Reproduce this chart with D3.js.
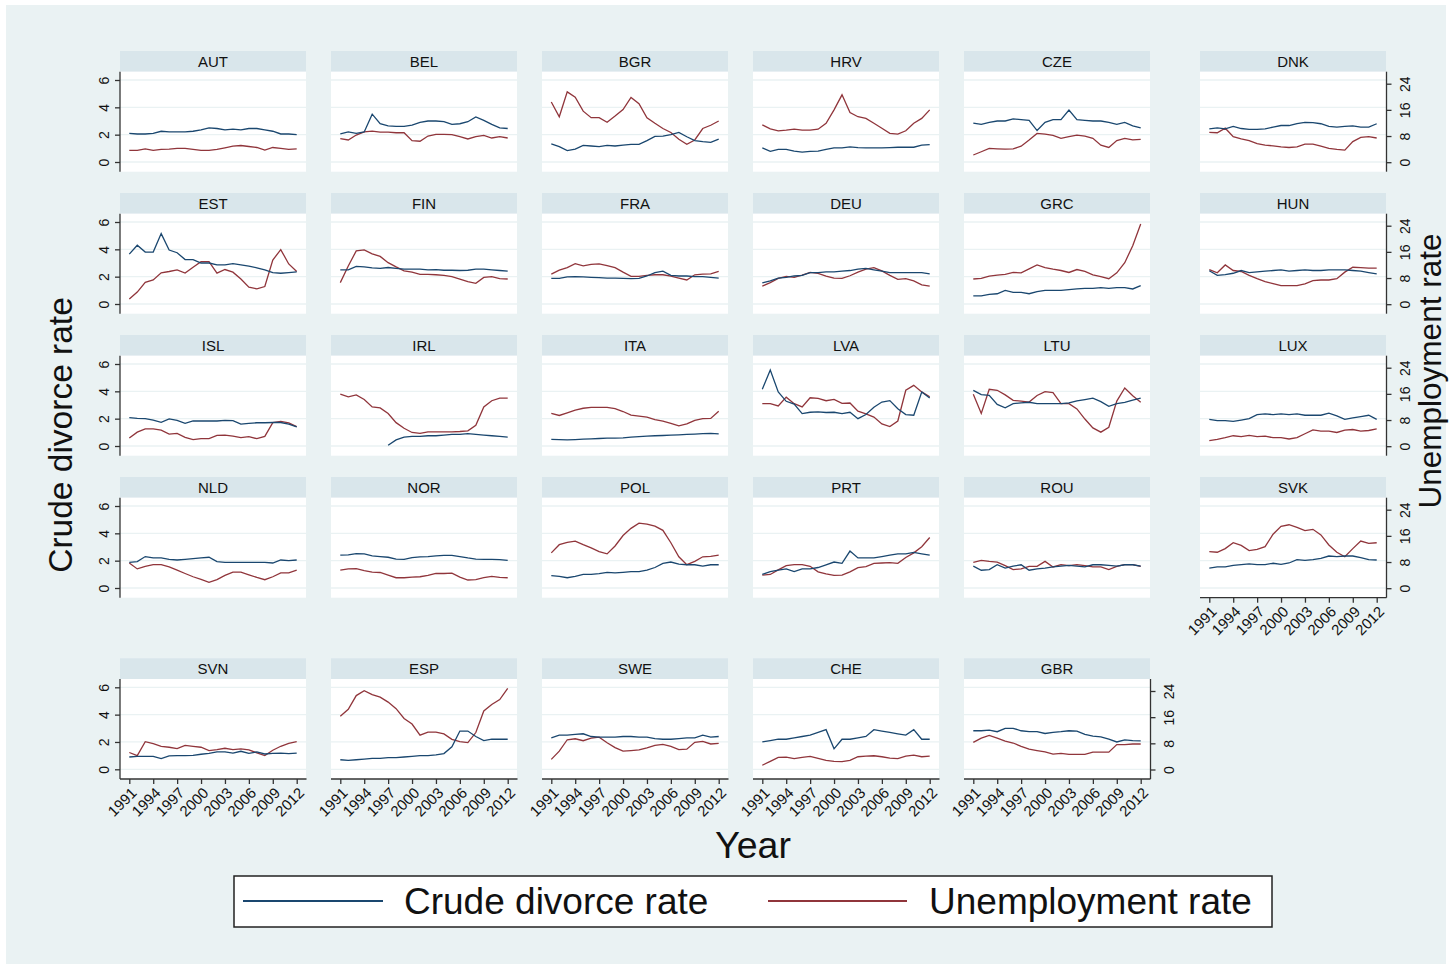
<!DOCTYPE html>
<html>
<head>
<meta charset="utf-8">
<script src="https://d3js.org/d3.v7.min.js"></script>
<style>
    body { margin: 0; background: #ffffff; }
    text { font-family: "Liberation Sans", Arial, sans-serif; fill: #111; }
</style>
</head>
<body>
<div id="my_dataviz"></div>
<script>

    // years, ticks and panel order
    var years = [1991, 1992, 1993, 1994, 1995, 1996, 1997, 1998, 1999, 2000, 2001,
        2002, 2003, 2004, 2005, 2006, 2007, 2008, 2009, 2010, 2011, 2012];
    var yearTicks = [1991, 1994, 1997, 2000, 2003, 2006, 2009, 2012];
    var divTicks = [0, 2, 4, 6];
    var unempTicks = [0, 8, 16, 24];
    var countries = ["AUT", "BEL", "BGR", "HRV", "CZE", "DNK",
        "EST", "FIN", "FRA", "DEU", "GRC", "HUN",
        "ISL", "IRL", "ITA", "LVA", "LTU", "LUX",
        "NLD", "NOR", "POL", "PRT", "ROU", "SVK",
        "SVN", "ESP", "SWE", "CHE", "GBR"];

    // crude divorce rate (left axis) and unemployment rate (right axis), 1991-2012
    var div_AUT = [2.1, 2.05, 2.05, 2.1, 2.25, 2.2, 2.2, 2.2, 2.25, 2.35, 2.5, 2.45, 2.35, 2.4, 2.35, 2.45, 2.45, 2.35, 2.25, 2.05, 2.05, 2.0];
    var une_AUT = [3.6, 3.6, 4.1, 3.6, 3.9, 4.0, 4.2, 4.2, 3.9, 3.6, 3.6, 3.9, 4.4, 4.9, 5.1, 4.8, 4.5, 3.7, 4.5, 4.2, 3.9, 4.1];
    var div_BEL = [2.05, 2.2, 2.1, 2.2, 3.5, 2.8, 2.65, 2.6, 2.6, 2.7, 2.9, 3.0, 3.0, 2.95, 2.75, 2.8, 2.95, 3.3, 3.05, 2.75, 2.5, 2.45];
    var une_BEL = [7.2, 6.8, 8.3, 9.3, 9.5, 9.2, 9.2, 9.0, 9.0, 6.6, 6.4, 8.0, 8.5, 8.5, 8.4, 7.8, 7.1, 7.8, 8.2, 7.4, 7.8, 7.4];
    var div_BGR = [1.32, 1.12, 0.83, 0.95, 1.22, 1.17, 1.12, 1.22, 1.17, 1.24, 1.29, 1.29, 1.56, 1.88, 1.9, 2.0, 2.17, 1.85, 1.56, 1.49, 1.44, 1.68];
    var une_BGR = [18.4, 13.9, 21.5, 19.9, 15.6, 13.6, 13.6, 12.2, 14.1, 16.1, 19.8, 17.9, 13.6, 11.9, 10.3, 9.1, 7.0, 5.5, 6.8, 10.3, 11.3, 12.6];
    var div_HRV = [1.03, 0.78, 0.93, 0.93, 0.8, 0.73, 0.78, 0.8, 0.93, 1.03, 1.03, 1.1, 1.05, 1.03, 1.03, 1.03, 1.05, 1.08, 1.08, 1.08, 1.23, 1.27];
    var une_HRV = [11.4, 10.2, 9.6, 9.8, 10.1, 9.8, 9.8, 10.1, 11.9, 16.0, 20.6, 15.2, 13.9, 13.4, 11.9, 10.4, 8.8, 8.6, 9.6, 11.9, 13.4, 16.0];
    var div_CZE = [2.85, 2.75, 2.9, 3.0, 3.0, 3.15, 3.1, 3.05, 2.3, 2.9, 3.1, 3.1, 3.8, 3.1, 3.05, 3.0, 3.0, 2.9, 2.75, 2.9, 2.65, 2.5];
    var une_CZE = [2.2, 3.2, 4.2, 4.1, 4.0, 4.1, 4.9, 6.8, 8.8, 8.6, 8.2, 7.3, 7.8, 8.3, 8.0, 7.3, 5.2, 4.5, 6.6, 7.3, 6.8, 7.0];
    var div_DNK = [2.43, 2.5, 2.43, 2.6, 2.45, 2.38, 2.38, 2.43, 2.55, 2.67, 2.67, 2.8, 2.9, 2.88, 2.8, 2.6, 2.55, 2.6, 2.65, 2.55, 2.55, 2.8];
    var une_DNK = [9.1, 9.0, 10.4, 7.8, 7.1, 6.6, 5.7, 5.2, 5.0, 4.7, 4.5, 4.7, 5.5, 5.5, 4.9, 4.2, 3.9, 3.7, 6.3, 7.6, 7.8, 7.4];
    var div_EST = [3.65, 4.3, 3.8, 3.8, 5.15, 3.95, 3.75, 3.25, 3.25, 3.0, 3.0, 2.87, 2.87, 2.95, 2.87, 2.77, 2.65, 2.5, 2.3, 2.25, 2.3, 2.35];
    var une_EST = [1.6, 3.7, 6.7, 7.4, 9.6, 10.0, 10.5, 9.5, 11.3, 13.0, 13.0, 9.5, 10.6, 9.8, 7.7, 5.2, 4.7, 5.4, 13.5, 16.7, 12.3, 10.0];
    var div_FIN = [2.5, 2.5, 2.75, 2.72, 2.65, 2.6, 2.67, 2.6, 2.55, 2.55, 2.55, 2.5, 2.52, 2.47, 2.47, 2.45, 2.47, 2.55, 2.55, 2.5, 2.45, 2.4];
    var une_FIN = [6.6, 11.7, 16.3, 16.6, 15.4, 14.6, 12.7, 11.4, 10.2, 9.8, 9.1, 9.1, 9.0, 8.8, 8.4, 7.7, 6.9, 6.4, 8.2, 8.4, 7.8, 7.7];
    var div_FRA = [1.88, 1.88, 1.98, 2.0, 1.98, 1.95, 1.93, 1.9, 1.9, 1.88, 1.85, 1.88, 2.05, 2.3, 2.4, 2.1, 2.05, 2.05, 2.0, 2.0, 1.95, 1.9];
    var une_FRA = [9.2, 10.4, 11.2, 12.4, 11.7, 12.2, 12.3, 11.8, 11.2, 9.8, 8.5, 8.5, 8.8, 9.0, 9.0, 8.6, 8.0, 7.4, 9.0, 9.2, 9.3, 10.0];
    var div_DEU = [1.55, 1.7, 1.9, 1.95, 2.05, 2.1, 2.3, 2.3, 2.35, 2.35, 2.4, 2.45, 2.55, 2.6, 2.5, 2.4, 2.3, 2.3, 2.3, 2.3, 2.3, 2.2];
    var une_DEU = [5.5, 6.6, 7.9, 8.5, 8.2, 8.9, 9.7, 9.4, 8.6, 8.0, 7.9, 8.7, 9.8, 10.7, 11.2, 10.2, 8.8, 7.6, 7.8, 7.1, 5.9, 5.5];
    var div_GRC = [0.6, 0.6, 0.7, 0.75, 1.0, 0.85, 0.85, 0.75, 0.9, 1.0, 1.0, 1.0, 1.05, 1.1, 1.15, 1.15, 1.2, 1.15, 1.2, 1.2, 1.1, 1.35];
    var une_GRC = [7.7, 7.9, 8.6, 8.9, 9.1, 9.7, 9.6, 10.8, 12.0, 11.2, 10.7, 10.3, 9.7, 10.6, 10.0, 9.0, 8.4, 7.8, 9.6, 12.7, 17.9, 24.5];
    var div_HUN = [2.43, 2.1, 2.15, 2.25, 2.45, 2.3, 2.35, 2.4, 2.45, 2.5, 2.4, 2.45, 2.5, 2.45, 2.45, 2.5, 2.5, 2.5, 2.45, 2.4, 2.3, 2.2];
    var une_HUN = [10.6, 9.6, 12.0, 10.3, 10.0, 8.8, 7.8, 6.9, 6.3, 5.7, 5.7, 5.7, 6.2, 7.2, 7.4, 7.4, 7.8, 9.8, 11.3, 11.2, 11.0, 11.0];
    var div_ISL = [2.07, 2.02, 2.0, 1.9, 1.73, 1.98, 1.88, 1.66, 1.83, 1.83, 1.83, 1.83, 1.88, 1.85, 1.6, 1.65, 1.7, 1.7, 1.72, 1.72, 1.6, 1.4];
    var une_ISL = [2.5, 4.3, 5.3, 5.3, 4.9, 3.7, 3.9, 2.7, 2.0, 2.3, 2.3, 3.3, 3.4, 3.1, 2.6, 2.9, 2.3, 3.0, 7.2, 7.6, 7.1, 6.0];
    var div_IRL = [null, null, null, null, null, null, 0.05, 0.45, 0.65, 0.7, 0.7, 0.75, 0.75, 0.8, 0.85, 0.85, 0.9, 0.85, 0.8, 0.75, 0.7, 0.65];
    var une_IRL = [15.9, 15.1, 15.7, 14.3, 12.0, 11.7, 10.0, 7.2, 5.5, 4.2, 3.9, 4.4, 4.4, 4.4, 4.4, 4.5, 4.7, 6.4, 12.0, 13.9, 14.7, 14.7];
    var div_ITA = [0.48, 0.47, 0.45, 0.47, 0.5, 0.52, 0.55, 0.57, 0.57, 0.6, 0.65, 0.68, 0.72, 0.75, 0.77, 0.8, 0.82, 0.85, 0.87, 0.9, 0.93, 0.88];
    var une_ITA = [10.0, 9.4, 10.2, 11.0, 11.6, 11.9, 11.9, 11.9, 11.5, 10.6, 9.5, 9.2, 8.9, 8.1, 7.7, 7.0, 6.2, 6.8, 7.9, 8.4, 8.5, 10.7];
    var div_LVA = [4.15, 5.56, 3.95, 3.27, 3.07, 2.37, 2.47, 2.5, 2.45, 2.47, 2.37, 2.47, 2.0, 2.3, 2.83, 3.22, 3.32, 2.73, 2.3, 2.25, 3.95, 3.51];
    var une_LVA = [13.0, 13.0, 12.3, 15.0, 13.0, 12.0, 14.8, 14.6, 13.9, 14.3, 13.1, 13.2, 10.7, 9.9, 8.9, 6.8, 6.0, 7.7, 17.1, 18.6, 16.6, 15.1];
    var div_LTU = [4.07, 3.76, 3.7, 3.04, 2.8, 3.1, 3.15, 3.2, 3.1, 3.1, 3.1, 3.1, 3.15, 3.3, 3.4, 3.5, 3.25, 2.9, 3.1, 3.2, 3.35, 3.5];
    var une_LTU = [15.9, 10.0, 17.4, 17.1, 15.7, 14.0, 13.8, 13.5, 15.5, 16.7, 16.4, 13.0, 13.0, 11.4, 8.3, 5.6, 4.3, 5.8, 13.8, 17.8, 15.4, 13.4];
    var div_LUX = [1.95, 1.85, 1.85, 1.8, 1.9, 2.0, 2.3, 2.35, 2.3, 2.35, 2.3, 2.35, 2.25, 2.25, 2.25, 2.4, 2.2, 1.95, 2.05, 2.15, 2.25, 1.95];
    var une_LUX = [1.7, 2.1, 2.6, 3.2, 2.9, 3.3, 2.9, 3.1, 2.6, 2.6, 2.2, 2.6, 3.8, 5.0, 4.6, 4.6, 4.2, 4.9, 5.1, 4.6, 4.8, 5.3];
    var div_NLD = [1.88, 1.93, 2.3, 2.2, 2.2, 2.1, 2.05, 2.1, 2.15, 2.2, 2.25, 1.93, 1.88, 1.88, 1.88, 1.88, 1.88, 1.88, 1.83, 2.05, 2.0, 2.05];
    var une_NLD = [7.7, 5.9, 6.7, 7.2, 7.2, 6.5, 5.5, 4.5, 3.5, 2.7, 1.8, 2.6, 3.9, 4.9, 4.9, 4.1, 3.3, 2.6, 3.5, 4.7, 4.7, 5.5];
    var div_NOR = [2.4, 2.42, 2.52, 2.5, 2.35, 2.3, 2.25, 2.12, 2.1, 2.22, 2.28, 2.3, 2.35, 2.38, 2.38, 2.3, 2.2, 2.12, 2.1, 2.1, 2.08, 2.02];
    var une_NOR = [5.5, 5.9, 6.0, 5.4, 4.9, 4.8, 4.0, 3.2, 3.2, 3.4, 3.5, 3.9, 4.5, 4.5, 4.6, 3.4, 2.5, 2.6, 3.2, 3.6, 3.3, 3.2];
    var div_POL = [0.9, 0.85, 0.75, 0.85, 1.0, 1.0, 1.05, 1.15, 1.1, 1.15, 1.2, 1.2, 1.3, 1.5, 1.8, 1.9, 1.75, 1.7, 1.7, 1.6, 1.7, 1.7];
    var une_POL = [10.8, 13.3, 14.0, 14.4, 13.3, 12.3, 11.2, 10.5, 12.9, 16.1, 18.3, 19.9, 19.6, 19.0, 17.7, 13.9, 9.6, 7.2, 8.2, 9.6, 9.7, 10.1];
    var div_PRT = [1.0, 1.2, 1.3, 1.4, 1.2, 1.4, 1.4, 1.5, 1.7, 1.9, 1.8, 2.7, 2.2, 2.2, 2.2, 2.3, 2.4, 2.5, 2.5, 2.6, 2.5, 2.4];
    var une_PRT = [4.0, 4.2, 5.6, 6.9, 7.2, 7.2, 6.7, 5.0, 4.4, 3.9, 4.0, 5.0, 6.3, 6.6, 7.6, 7.7, 7.8, 7.6, 9.4, 10.8, 12.7, 15.5];
    var div_ROU = [1.6, 1.3, 1.35, 1.7, 1.45, 1.6, 1.7, 1.3, 1.4, 1.45, 1.55, 1.6, 1.65, 1.6, 1.55, 1.7, 1.7, 1.65, 1.6, 1.7, 1.7, 1.6];
    var une_ROU = [7.9, 8.5, 8.2, 8.0, 6.9, 5.7, 5.9, 6.7, 6.7, 8.2, 6.5, 7.2, 6.9, 7.2, 6.9, 6.5, 6.5, 5.7, 6.7, 7.2, 7.2, 6.7];
    var div_SVK = [1.46, 1.54, 1.54, 1.66, 1.71, 1.76, 1.71, 1.71, 1.81, 1.73, 1.83, 2.07, 2.02, 2.07, 2.17, 2.34, 2.29, 2.34, 2.34, 2.22, 2.07, 2.05];
    var une_SVK = [11.2, 11.0, 12.1, 13.9, 13.1, 11.5, 11.9, 12.7, 16.5, 18.9, 19.4, 18.6, 17.6, 18.0, 16.3, 13.2, 11.0, 9.6, 12.1, 14.4, 13.7, 13.9];
    var div_SVN = [0.9, 0.95, 0.95, 0.95, 0.78, 0.98, 1.0, 1.0, 1.02, 1.1, 1.17, 1.27, 1.27, 1.19, 1.32, 1.17, 1.27, 1.12, 1.17, 1.19, 1.14, 1.19];
    var une_SVN = [5.2, 4.25, 8.5, 7.9, 7.1, 6.8, 6.4, 7.4, 7.1, 6.8, 5.8, 6.1, 6.5, 6.1, 6.3, 6.0, 5.1, 4.25, 5.9, 7.1, 8.0, 8.5];
    var div_ESP = [0.7, 0.65, 0.7, 0.75, 0.8, 0.8, 0.85, 0.85, 0.9, 0.95, 1.0, 1.0, 1.05, 1.15, 1.65, 2.8, 2.8, 2.4, 2.1, 2.2, 2.2, 2.2];
    var une_ESP = [16.3, 18.4, 22.6, 24.1, 22.9, 22.1, 20.6, 18.6, 15.6, 13.9, 10.5, 11.4, 11.4, 10.9, 9.2, 8.5, 8.2, 11.3, 17.9, 19.9, 21.4, 24.8];
    var div_SWE = [2.3, 2.5, 2.5, 2.55, 2.6, 2.4, 2.35, 2.35, 2.35, 2.4, 2.4, 2.35, 2.35, 2.25, 2.2, 2.2, 2.25, 2.3, 2.3, 2.5, 2.35, 2.4];
    var une_SWE = [3.1, 5.6, 9.1, 9.4, 8.8, 9.6, 9.9, 8.2, 6.7, 5.6, 5.8, 6.0, 6.6, 7.4, 7.7, 7.1, 6.1, 6.2, 8.3, 8.6, 7.8, 8.0];
    var div_CHE = [2.0, 2.1, 2.2, 2.2, 2.3, 2.4, 2.5, 2.7, 2.9, 1.5, 2.2, 2.2, 2.3, 2.4, 2.9, 2.8, 2.7, 2.6, 2.5, 2.9, 2.2, 2.2];
    var une_CHE = [1.3, 2.5, 3.7, 3.8, 3.3, 3.7, 4.0, 3.4, 2.8, 2.5, 2.4, 2.8, 3.9, 4.1, 4.2, 3.9, 3.5, 3.3, 4.1, 4.4, 3.9, 4.1];
    var div_GBR = [2.82, 2.82, 2.87, 2.75, 3.0, 3.0, 2.82, 2.75, 2.75, 2.62, 2.7, 2.75, 2.82, 2.8, 2.55, 2.42, 2.37, 2.2, 2.0, 2.15, 2.1, 2.08];
    var une_GBR = [8.3, 9.6, 10.4, 9.6, 8.7, 8.1, 7.1, 6.2, 5.8, 5.4, 4.7, 4.9, 4.6, 4.6, 4.6, 5.3, 5.3, 5.3, 7.6, 7.6, 7.8, 7.8];

    // lookup tables built from the arrays above
    var divorce = {
        AUT: div_AUT, BEL: div_BEL, BGR: div_BGR, HRV: div_HRV, CZE: div_CZE, DNK: div_DNK,
        EST: div_EST, FIN: div_FIN, FRA: div_FRA, DEU: div_DEU, GRC: div_GRC, HUN: div_HUN,
        ISL: div_ISL, IRL: div_IRL, ITA: div_ITA, LVA: div_LVA, LTU: div_LTU, LUX: div_LUX,
        NLD: div_NLD, NOR: div_NOR, POL: div_POL, PRT: div_PRT, ROU: div_ROU, SVK: div_SVK,
        SVN: div_SVN, ESP: div_ESP, SWE: div_SWE, CHE: div_CHE, GBR: div_GBR
    };
    var unemp = {
        AUT: une_AUT, BEL: une_BEL, BGR: une_BGR, HRV: une_HRV, CZE: une_CZE, DNK: une_DNK,
        EST: une_EST, FIN: une_FIN, FRA: une_FRA, DEU: une_DEU, GRC: une_GRC, HUN: une_HUN,
        ISL: une_ISL, IRL: une_IRL, ITA: une_ITA, LVA: une_LVA, LTU: une_LTU, LUX: une_LUX,
        NLD: une_NLD, NOR: une_NOR, POL: une_POL, PRT: une_PRT, ROU: une_ROU, SVK: une_SVK,
        SVN: une_SVN, ESP: une_ESP, SWE: une_SWE, CHE: une_CHE, GBR: une_GBR
    };

    var blue = "#1a476f", red = "#90353b";
    var panelW = 186, panelH = 100, stripH = 20.7;
    var colLeft = [120, 331, 542, 753, 964, 1200];
    var rowTop = [71.7, 213.7, 355.7, 497.7, 679];

    var svg = d3.select("#my_dataviz")
        .append("svg")
        .attr("width", 1451)
        .attr("height", 969);

    // graph background
    svg.append("rect").attr("x", 0).attr("y", 0).attr("width", 1451).attr("height", 969).attr("fill", "#ffffff");
    svg.append("rect").attr("x", 6).attr("y", 5).attr("width", 1440).attr("height", 959).attr("fill", "#eaf2f3");

    countries.forEach(function (name, i) {
        var r = Math.floor(i / 6), c = i % 6;
        var left = colLeft[c], top = rowTop[r];

        var x = d3.scaleLinear().domain([1991, 2012]).range([left + 9.3, left + 176.7]);
        var yL = d3.scaleLinear().domain([0, 6]).range([top + 90.3, top + 8.3]);
        var yR = d3.scaleLinear().domain([0, 24]).range([top + 90.5, top + 12]);

        var g = svg.append("g");

        // title strip
        g.append("rect")
            .attr("x", left).attr("y", top - stripH)
            .attr("width", panelW).attr("height", stripH)
            .attr("fill", "#d9e6eb");
        g.append("text")
            .attr("x", left + panelW / 2).attr("y", top - stripH / 2)
            .attr("text-anchor", "middle")
            .attr("dominant-baseline", "central")
            .style("font-size", "15px")
            .text(name);

        // plot region
        g.append("rect")
            .attr("x", left).attr("y", top)
            .attr("width", panelW).attr("height", panelH)
            .attr("fill", "#ffffff");

        g.selectAll(".grid")
            .data(divTicks)
            .enter()
            .append("line")
            .attr("x1", left).attr("x2", left + panelW)
            .attr("y1", function (d) { return yL(d) })
            .attr("y2", function (d) { return yL(d) })
            .attr("stroke", "#eaf2f3")
            .attr("stroke-width", 1.3);

        var dv = years.map(function (yr, k) { return { year: yr, v: divorce[name][k] } });
        var uv = years.map(function (yr, k) { return { year: yr, v: unemp[name][k] } });

        g.append("path")
            .datum(uv)
            .attr("fill", "none")
            .attr("stroke", red)
            .attr("stroke-width", 1.3)
            .attr("d", d3.line()
                .defined(function (d) { return d.v != null })
                .x(function (d) { return x(d.year) })
                .y(function (d) { return yR(d.v) }));

        g.append("path")
            .datum(dv)
            .attr("fill", "none")
            .attr("stroke", blue)
            .attr("stroke-width", 1.3)
            .attr("d", d3.line()
                .defined(function (d) { return d.v != null })
                .x(function (d) { return x(d.year) })
                .y(function (d) { return yL(d.v) }));

        // left axis on the first column
        if (c == 0) {
            var ax = g.append("g")
                .attr("transform", "translate(" + left + ",0)")
                .call(d3.axisLeft(yL).tickValues(divTicks).tickSize(5).tickPadding(0).tickFormat(d3.format("d")));
            ax.select(".domain").remove();
            ax.selectAll("line").attr("stroke", "#333").attr("stroke-width", 1.3);
            ax.selectAll("text")
                .attr("x", null).attr("dy", null)
                .attr("transform", "translate(-16.5,0) rotate(-90)")
                .attr("text-anchor", "middle")
                .attr("dominant-baseline", "central")
                .style("font-size", "14px")
                .style("font-family", "Liberation Sans, Arial, sans-serif")
                .attr("fill", "#111");
            g.append("line")
                .attr("x1", left).attr("x2", left)
                .attr("y1", top).attr("y2", top + panelH)
                .attr("stroke", "#333").attr("stroke-width", 1.3);
        }

        // right axis on the last column and on GBR
        if (c == 5 || name == "GBR") {
            var ar = g.append("g")
                .attr("transform", "translate(" + (left + panelW + 0.5) + ",0)")
                .call(d3.axisRight(yR).tickValues(unempTicks).tickSize(5).tickPadding(0).tickFormat(d3.format("d")));
            ar.select(".domain").remove();
            ar.selectAll("line").attr("stroke", "#333").attr("stroke-width", 1.3);
            ar.selectAll("text")
                .attr("x", null).attr("dy", null)
                .attr("transform", "translate(18,0) rotate(-90)")
                .attr("text-anchor", "middle")
                .attr("dominant-baseline", "central")
                .style("font-size", "14px")
                .style("font-family", "Liberation Sans, Arial, sans-serif")
                .attr("fill", "#111");
            g.append("line")
                .attr("x1", left + panelW + 0.5).attr("x2", left + panelW + 0.5)
                .attr("y1", top).attr("y2", top + panelH)
                .attr("stroke", "#333").attr("stroke-width", 1.3);
        }

        // bottom axis on the last panel of each column
        if (r == 4 || name == "SVK") {
            var ab = g.append("g")
                .attr("transform", "translate(0," + (top + panelH) + ")")
                .call(d3.axisBottom(x).tickValues(yearTicks).tickSize(5).tickFormat(d3.format("d")));
            ab.select(".domain").remove();
            ab.selectAll("line").attr("stroke", "#333").attr("stroke-width", 1.3);
            ab.selectAll("text")
                .attr("y", null).attr("dy", null)
                .attr("transform", "translate(4,11) rotate(-45)")
                .attr("text-anchor", "end")
                .attr("dominant-baseline", "central")
                .style("font-size", "15px")
                .style("font-family", "Liberation Sans, Arial, sans-serif")
                .attr("fill", "#111");
            g.append("line")
                .attr("x1", left).attr("x2", left + panelW + 0.5)
                .attr("y1", top + panelH).attr("y2", top + panelH)
                .attr("stroke", "#333").attr("stroke-width", 1.3);
        }
    });

    // axis titles
    svg.append("text")
        .attr("transform", "translate(72,435) rotate(-90)")
        .attr("text-anchor", "middle")
        .style("font-size", "33.5px")
        .text("Crude divorce rate");
    svg.append("text")
        .attr("transform", "translate(1441,371) rotate(-90)")
        .attr("text-anchor", "middle")
        .style("font-size", "31.5px")
        .text("Unemployment rate");
    svg.append("text")
        .attr("x", 753).attr("y", 858)
        .attr("text-anchor", "middle")
        .style("font-size", "37.5px")
        .text("Year");

    // legend
    var legend = svg.append("g");
    legend.append("rect")
        .attr("x", 234).attr("y", 876).attr("width", 1038).attr("height", 51)
        .attr("fill", "#ffffff").attr("stroke", "#222").attr("stroke-width", 1.5);
    var keys = [
        { label: "Crude divorce rate", color: blue, x1: 243, x2: 383, tx: 404 },
        { label: "Unemployment rate", color: red, x1: 768, x2: 907, tx: 929 }
    ];
    keys.forEach(function (k) {
        legend.append("line")
            .attr("x1", k.x1).attr("x2", k.x2).attr("y1", 901).attr("y2", 901)
            .attr("stroke", k.color).attr("stroke-width", 2.2);
        legend.append("text")
            .attr("x", k.tx).attr("y", 914)
            .style("font-size", "37px")
            .text(k.label);
    });

</script>
</body>
</html>
